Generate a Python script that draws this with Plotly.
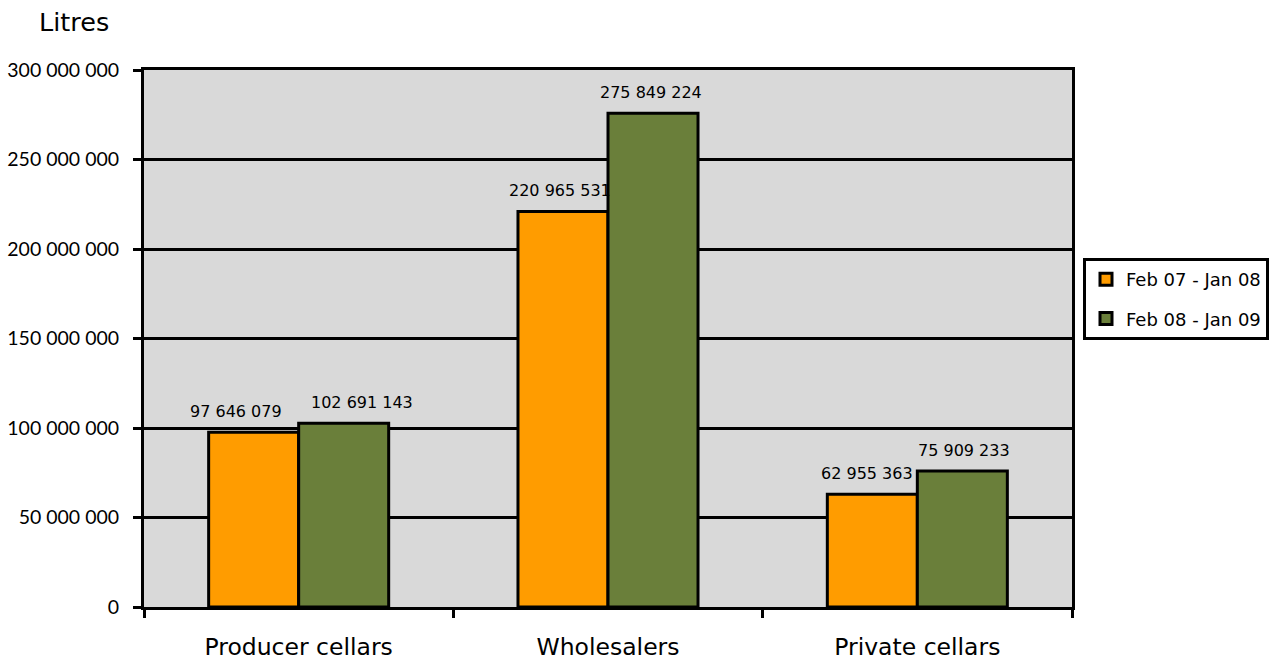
import plotly.graph_objects as go

categories = ["Producer cellars", "Wholesalers", "Private cellars"]
series_names = ["Feb 07 - Jan 08", "Feb 08 - Jan 09"]
values_0708 = [97646079, 220965531, 62955363]
values_0809 = [102691143, 275849224, 75909233]
y_ticks = [0, 50000000, 100000000, 150000000, 200000000, 250000000, 300000000]
y_tick_labels = ["0", "50 000 000", "100 000 000", "150 000 000", "200 000 000", "250 000 000", "300 000 000"]
colors = ["#FF9C00", "#6A7F3A"]


def fmt(v):
    return f"{v:,}".replace(",", " ")


DV = "DejaVu Sans"
BARGAP = 0.418
bar_w = (1 - BARGAP) / 2
# small horizontal nudges so neighbouring labels do not overlap (first group)
label_nudge = [[-18, -3, -5], [18, -2, 2]]

fig = go.Figure()
annotations = []
for si, (name, vals, col) in enumerate(zip(series_names, [values_0708, values_0809], colors)):
    fig.add_trace(go.Bar(
        x=list(range(len(categories))), y=vals, name=name, legendgroup=name,
        marker=dict(color=col, line=dict(color="black", width=3)),
    ))
    off = (si - 0.5) * bar_w
    for ci, v in enumerate(vals):
        annotations.append(dict(
            x=ci + off, y=v, xref="x", yref="y", text=fmt(v), showarrow=False,
            yshift=21, xshift=label_nudge[si][ci],
            font=dict(family=DV, size=16, color="black"),
        ))

annotations.append(dict(text="Litres", x=(37 - 144) / 928, y=(607 - 22) / 537,
                        xref="paper", yref="paper", xanchor="left", yanchor="middle",
                        showarrow=False, font=dict(family=DV, size=25.5, color="black")))

fig.update_layout(
    width=1269, height=664,
    margin=dict(l=144, r=197, t=70, b=57, autoexpand=False),
    paper_bgcolor="white", plot_bgcolor="#D9D9D9",
    barmode="group", bargap=BARGAP, bargroupgap=0,
    font=dict(family=DV, color="black"),
    showlegend=True,
    legend=dict(x=(1083 - 144) / 928, y=(607 - 258) / 537, xanchor="left", yanchor="top",
                bordercolor="black", borderwidth=3, bgcolor="white",
                font=dict(family=DV, size=18, color="black"),
                traceorder="grouped", tracegroupgap=13),
    annotations=annotations,
)
fig.update_xaxes(
    tickmode="array", tickvals=list(range(len(categories))), ticktext=categories,
    range=[-0.5, len(categories) - 0.5],
    ticks="", showline=True, linecolor="black", linewidth=3, mirror=True,
    tickfont=dict(family=DV, size=23.5, color="black"), ticklabelstandoff=17,
    showgrid=False, automargin=False, zeroline=False,
)
# boundary ticks on a secondary overlay axis
fig.update_layout(xaxis2=dict(
    overlaying="x", matches="x", tickmode="array",
    tickvals=[i - 0.5 for i in range(len(categories) + 1)],
    ticktext=[""] * (len(categories) + 1), side="bottom",
    ticks="outside", ticklen=10, tickwidth=3, tickcolor="black",
    showgrid=False, showline=False, zeroline=False, automargin=False,
))
fig.add_trace(go.Scatter(x=[0], y=[0], xaxis="x2", mode="markers",
                         marker=dict(opacity=0), showlegend=False, hoverinfo="skip"))
fig.update_yaxes(
    range=[0, 300000000], tickvals=y_ticks, ticktext=y_tick_labels,
    ticks="outside", ticklen=8, tickwidth=3, tickcolor="black",
    showline=True, linecolor="black", linewidth=3, mirror=True,
    showgrid=True, gridcolor="black", gridwidth=2.5,
    tickfont=dict(family="Lato", size=19.5, color="black"), ticklabelstandoff=10,
    zeroline=False, automargin=False,
)
fig.write_html("out.html", config={"displayModeBar": False},
               post_script="document.body.style.margin='0';document.body.style.overflow='hidden';")
